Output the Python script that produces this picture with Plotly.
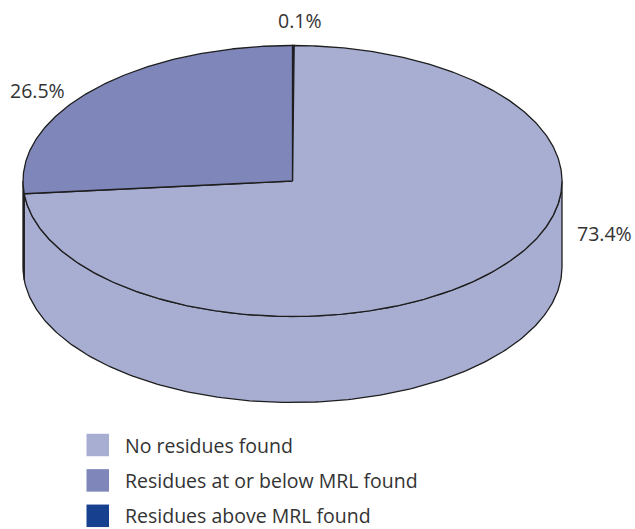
import numpy as np
import plotly.graph_objects as go

# Share of samples by residue outcome
categories = ["No residues found", "Residues at or below MRL found", "Residues above MRL found"]
values = [73.4, 26.5, 0.1]
colors = ["#a8aed2", "#7f86ba", "#17408f"]

# Geometry of the tilted pie (page pixel units, y grows downward)
W, H = 635, 529
CX, CY = 292.5, 181.0
RX, RY = 269.5, 135.5
DEPTH = 86.0
OUTLINE = "#1e1e1e"
TEXT = "#333333"
FONT = "Open Sans, Liberation Sans, Arial, sans-serif"
FONT_SIZE = 19.5

# Slices run clockwise from 12 o'clock: above-MRL, none, at/below-MRL
draw_order = [2, 0, 1]


def pt(theta_deg, h=0.0):
    t = np.radians(theta_deg)
    return CX + RX * np.cos(t), CY - RY * np.sin(t) + h


# angular extents (counter-clockwise intervals, degrees)
extent = {}
end = 90.0 + 360.0
for i in draw_order:
    start = end - values[i] / sum(values) * 360.0
    extent[i] = (start, end)
    end = start

fig = go.Figure()

# front walls of the cylinder
for i in draw_order:
    a, b = extent[i]
    for lo, hi in [(180.0, 360.0), (540.0, 720.0)]:
        s, e = max(a, lo), min(b, hi)
        if e <= s:
            continue
        th = np.linspace(s, e, 200)
        xt, yt = pt(th)
        xb, yb = pt(th[::-1], DEPTH)
        fig.add_trace(go.Scatter(
            x=np.concatenate([xt, xb, xt[:1]]),
            y=np.concatenate([yt, yb, yt[:1]]),
            mode="lines", fill="toself", fillcolor=colors[i],
            line=dict(color=OUTLINE, width=1.3),
            hoverinfo="skip", showlegend=False))

# top faces
for i in draw_order:
    a, b = extent[i]
    th = np.linspace(a, b, max(int((b - a) * 2), 4))
    xa, ya = pt(th)
    fig.add_trace(go.Scatter(
        x=np.concatenate([[CX], xa, [CX]]),
        y=np.concatenate([[CY], ya, [CY]]),
        mode="lines", fill="toself", fillcolor=colors[i],
        line=dict(color=OUTLINE, width=1.3),
        hoverinfo="skip", showlegend=False))

# percentage labels
label_pos = {0: (604, 233), 1: (37, 90), 2: (300, 20)}
for i, v in enumerate(values):
    x, y = label_pos[i]
    fig.add_annotation(x=x, y=y, text=f"{v:.1f}%", showarrow=False,
                       font=dict(family=FONT, size=FONT_SIZE, color=TEXT),
                       xanchor="center", yanchor="middle")

# legend
LEG_X, LEG_Y0, LEG_STEP, SW = 86.5, 445.0, 35.4, 22.5
for k, name in enumerate(categories):
    yc = LEG_Y0 + k * LEG_STEP
    fig.add_shape(type="rect", x0=LEG_X, x1=LEG_X + SW,
                  y0=yc - SW / 2, y1=yc + SW / 2,
                  fillcolor=colors[k], line=dict(width=0))
    fig.add_annotation(x=123, y=yc, text=name, showarrow=False,
                       xanchor="left", yanchor="middle",
                       font=dict(family=FONT, size=FONT_SIZE, color=TEXT))

fig.update_layout(
    width=W, height=H,
    margin=dict(l=0, r=0, t=0, b=0),
    paper_bgcolor="white", plot_bgcolor="white",
    xaxis=dict(range=[0, W], visible=False, fixedrange=True),
    yaxis=dict(range=[H, 0], visible=False, fixedrange=True),
    showlegend=False,
)

fig.write_html("out.html")
